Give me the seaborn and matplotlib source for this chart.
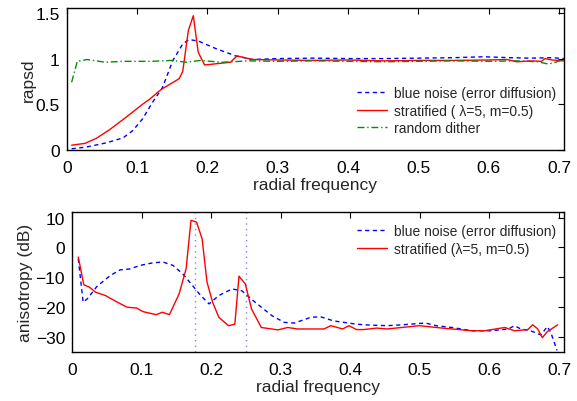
import numpy as np
import pandas as pd
import matplotlib
matplotlib.use("Agg")
import matplotlib.pyplot as plt
import seaborn as sns
from matplotlib.ticker import FuncFormatter

# ---------------- data ----------------
# top panel: rapsd
blue_top_x = [0.007, 0.028, 0.056, 0.080, 0.094, 0.108, 0.122, 0.136, 0.151, 0.165, 0.174,
              0.188, 0.212, 0.240, 0.264, 0.30, 0.35, 0.40, 0.45, 0.50, 0.55, 0.593, 0.63,
              0.66, 0.69, 0.707]
blue_top_y = [0.01, 0.03, 0.075, 0.13, 0.21, 0.34, 0.52, 0.68, 0.98, 1.16, 1.21,
              1.19, 1.11, 1.03, 0.99, 1.0, 1.005, 1.0, 1.0, 1.005, 1.01, 1.02, 1.01,
              1.005, 1.01, 1.0]

red_top_x = [0.007, 0.026, 0.042, 0.061, 0.085, 0.108, 0.118, 0.134, 0.160, 0.165, 0.173,
             0.180, 0.187, 0.196, 0.233, 0.242, 0.264, 0.30, 0.35, 0.40, 0.45, 0.50, 0.55,
             0.60, 0.626, 0.64, 0.66, 0.675, 0.68, 0.69, 0.707]
red_top_y = [0.05, 0.07, 0.125, 0.22, 0.36, 0.50, 0.555, 0.66, 0.78, 0.86, 1.31,
             1.47, 1.07, 0.93, 0.96, 1.03, 0.99, 0.985, 0.98, 0.985, 0.975, 0.98, 0.98,
             0.985, 0.99, 0.965, 0.975, 0.97, 1.0, 0.985, 0.975]

green_top_x = [0.007, 0.015, 0.029, 0.055, 0.08, 0.12, 0.15, 0.17, 0.19, 0.22, 0.26, 0.30,
               0.35, 0.40, 0.45, 0.50, 0.55, 0.60, 0.64, 0.67, 0.685, 0.695, 0.707]
green_top_y = [0.74, 0.97, 0.99, 0.96, 0.97, 0.97, 0.98, 0.96, 0.98, 0.96, 0.975, 0.97,
               0.975, 0.97, 0.965, 0.97, 0.975, 0.97, 0.975, 0.965, 0.94, 0.96, 0.99]

# bottom panel: anisotropy (dB)
blue_bot_x = [0.009, 0.016, 0.022, 0.036, 0.055, 0.069, 0.083, 0.098, 0.117, 0.131, 0.145,
              0.159, 0.173, 0.185, 0.197, 0.211, 0.230, 0.244, 0.263, 0.287, 0.305, 0.320,
              0.343, 0.357, 0.376, 0.409, 0.428, 0.453, 0.475, 0.508, 0.523, 0.546, 0.575,
              0.603, 0.627, 0.636, 0.645, 0.659, 0.674, 0.683, 0.688, 0.697]
blue_bot_y = [-3.8, -18.3, -17.2, -13.0, -9.4, -7.5, -7.2, -6.0, -5.1, -4.9, -6.0,
              -8.8, -12.7, -16.1, -18.9, -16.1, -13.9, -14.5, -18.3, -22.8, -25.1, -25.3,
              -23.4, -23.2, -24.6, -25.7, -26.0, -26.2, -25.9, -25.3, -26.2, -26.8, -27.9,
              -27.9, -27.3, -26.2, -27.3, -27.9, -29.3, -26.5, -28.4, -34.5]

red_bot_x = [0.009, 0.017, 0.025, 0.034, 0.048, 0.065, 0.079, 0.093, 0.102, 0.121, 0.130,
             0.140, 0.154, 0.164, 0.171, 0.179, 0.187, 0.194, 0.202, 0.211, 0.225, 0.234,
             0.240, 0.249, 0.258, 0.272, 0.296, 0.310, 0.324, 0.362, 0.372, 0.389, 0.398,
             0.409, 0.419, 0.438, 0.453, 0.499, 0.532, 0.575, 0.593, 0.622, 0.636, 0.655,
             0.662, 0.669, 0.676, 0.683, 0.698]
red_bot_y = [-3.2, -12.5, -13.3, -15.0, -16.1, -18.3, -20.0, -20.3, -21.5, -22.5, -21.7,
             -22.5, -15.5, -7.1, 9.1, 8.5, 2.9, -11.6, -18.3, -23.4, -26.2, -25.7,
             -9.6, -12.2, -20.6, -26.8, -27.6, -26.8, -27.3, -27.3, -26.2, -27.3, -26.2,
             -27.5, -27.5, -27.0, -27.3, -26.2, -27.0, -27.9, -27.9, -26.8, -27.9, -27.5,
             -25.9, -27.2, -30.2, -28.2, -25.9]

vlines_x = [0.1768, 0.25]

xticks = [0, 0.1, 0.2, 0.3, 0.4, 0.5, 0.6, 0.7]
yticks_top = [0, 0.5, 1, 1.5]
yticks_bot = [-30, -20, -10, 0, 10]

lab_blue = "blue noise (error diffusion)"
lab_red_top = "stratified ( \u03bb=5, m=0.5)"
lab_red_bot = "stratified (\u03bb=5, m=0.5)"
lab_green = "random dither"

# ---------------- style ----------------
sns.set_style("white")
plt.rcParams["font.family"] = ["Liberation Sans", "DejaVu Sans"]
plt.rcParams.update({
    "xtick.direction": "in", "ytick.direction": "in",
    "xtick.top": True, "ytick.right": True,
    "xtick.major.size": 4, "ytick.major.size": 4,
    "xtick.major.width": 0.8, "ytick.major.width": 0.8,
    "xtick.major.pad": 7.5, "ytick.major.pad": 5,
    "axes.edgecolor": "black", "axes.linewidth": 1.0,
    "xtick.color": "black", "ytick.color": "black",
    "xtick.labelsize": 12.5, "ytick.labelsize": 12.5,
    "axes.labelsize": 12.5,
})

fig = plt.figure(figsize=(5.77, 4.02), dpi=100)
ax1 = fig.add_axes([0.1156, 0.625, 0.9775 - 0.1156, 0.9776 - 0.625])
ax2 = fig.add_axes([0.1248, 0.122, 0.9775 - 0.1248, 0.471 - 0.122])

fmt = FuncFormatter(lambda v, p: ("%g" % v).replace("-", "\u2212"))

# top panel
sns.lineplot(x=blue_top_x, y=blue_top_y, ax=ax1, color="#0000ff", lw=1.0,
             linestyle=(0, (3, 2.5)), label=lab_blue, sort=False)
sns.lineplot(x=red_top_x, y=red_top_y, ax=ax1, color="#ff0000", lw=1.0,
             label=lab_red_top, sort=False)
sns.lineplot(x=green_top_x, y=green_top_y, ax=ax1, color="#009000", lw=1.0,
             linestyle=(0, (5, 2, 1, 2)), label=lab_green, sort=False)
ax1.set_xlim(0, 0.7071)
ax1.set_ylim(0, 1.555)
ax1.set_xticks(xticks)
ax1.set_yticks(yticks_top)
ax1.xaxis.set_major_formatter(fmt)
ax1.yaxis.set_major_formatter(fmt)
ax1.set_xlabel("radial frequency", labelpad=1)
ax1.set_ylabel("rapsd", labelpad=0)
ax1.legend(loc="lower right", bbox_to_anchor=(1.0, 0.045), frameon=False,
           fontsize=10, handlelength=2.1, handletextpad=0.5, labelspacing=0.25,
           borderaxespad=0.2)

# bottom panel
for vx in vlines_x:
    ax2.axvline(vx, color="#8080ff", lw=1.0, linestyle=(0, (1, 3)), zorder=1)
sns.lineplot(x=blue_bot_x, y=blue_bot_y, ax=ax2, color="#0000ff", lw=1.0,
             linestyle=(0, (3, 2.5)), label=lab_blue, sort=False)
sns.lineplot(x=red_bot_x, y=red_bot_y, ax=ax2, color="#ff0000", lw=1.0,
             label=lab_red_bot, sort=False)
ax2.set_xlim(0, 0.7071)
ax2.set_ylim(-35, 12)
ax2.set_xticks(xticks)
ax2.set_yticks(yticks_bot)
ax2.xaxis.set_major_formatter(fmt)
ax2.yaxis.set_major_formatter(fmt)
ax2.set_xlabel("radial frequency", labelpad=1)
ax2.set_ylabel("anisotropy (dB)", labelpad=2)
ax2.legend(loc="upper right", bbox_to_anchor=(1.0, 0.97), frameon=False,
           fontsize=10, handlelength=2.1, handletextpad=0.5, labelspacing=0.25,
           borderaxespad=0.2)

for ax in (ax1, ax2):
    for s in ax.spines.values():
        s.set_visible(True)
        s.set_color("black")

fig.savefig("out.png", dpi=100)
